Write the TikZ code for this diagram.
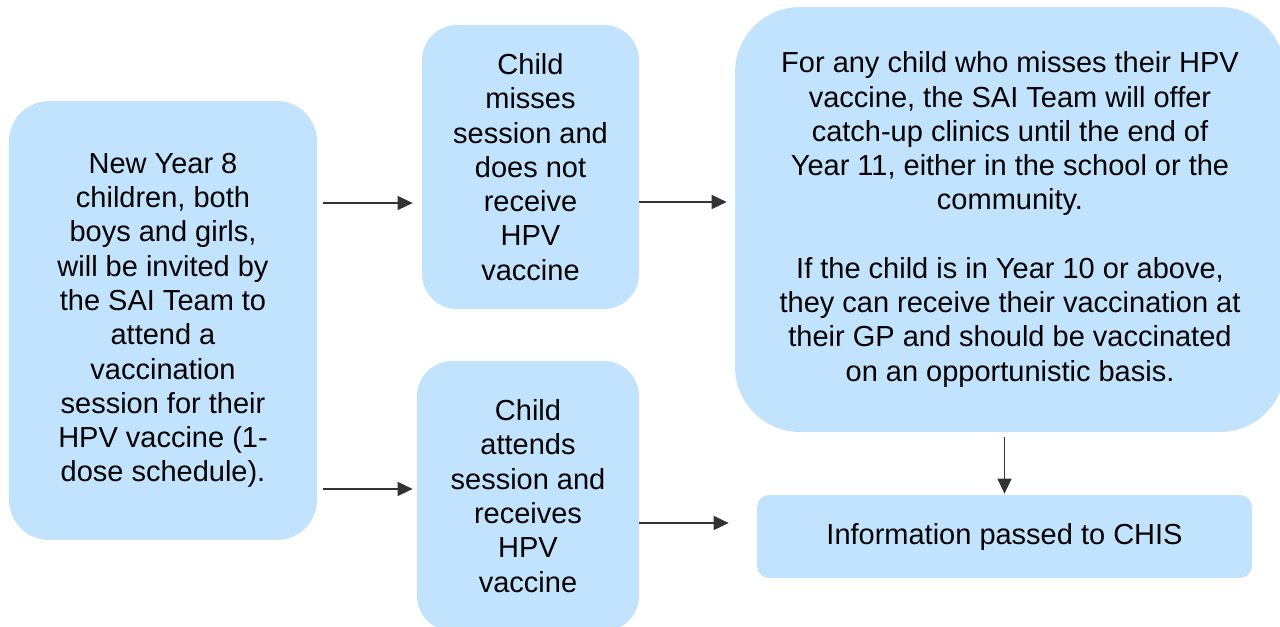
\documentclass[tikz,border=0pt]{standalone}
\usepackage{fontspec}
\setmainfont{Liberation Sans}
\usetikzlibrary{arrows.meta}
\definecolor{boxblue}{RGB}{194,227,253}
\begin{document}
\begin{tikzpicture}[x=0.02cm, y=-0.02cm, >={Triangle[length=0.3cm,width=0.28cm]},
  box/.style={fill=boxblue, align=center, inner sep=0pt, font=\fontsize{16.5}{19.5}\selectfont},
  link/.style={->, draw=black!80, line width=0.7pt}]
\useasboundingbox (0,0) rectangle (1280,626);
\node[box, rounded corners=0.8cm, minimum width=6.16cm, minimum height=8.78cm](invite) at (163,320.5)
  {New Year 8\\children, both\\boys and girls,\\will be invited by\\the SAI Team to\\attend a\\vaccination\\session for their\\HPV vaccine (1-\\dose schedule).};
\node[box, rounded corners=0.7cm, minimum width=4.34cm, minimum height=5.68cm](missed) at (530.5,167)
  {Child\\misses\\session and\\does not\\receive\\HPV\\vaccine};
\node[box, rounded corners=0.7cm, minimum width=4.44cm, minimum height=5.4cm](attend) at (528,496)
  {Child\\attends\\session and\\receives\\HPV\\vaccine};
\node[box, rounded corners=1.3cm, minimum width=11cm, minimum height=8.5cm](catchup) at (1010,219.5)
  {For any child who misses their HPV\\vaccine, the SAI Team will offer\\catch-up clinics until the end of\\Year 11, either in the school or the\\community.\\[19.5pt]If the child is in Year 10 or above,\\they can receive their vaccination at\\their GP and should be vaccinated\\on an opportunistic basis.};
\node[box, rounded corners=0.24cm, minimum width=9.9cm, minimum height=1.66cm](chis) at (1004.5,536.5)
  {Information passed to CHIS};
% arrows
\draw[link, shorten <=0.12cm, shorten >=0.18cm]([yshift=2.35cm]invite.east)--([yshift=2.35cm]invite.east -| missed.west);
\draw[link, shorten <=0.12cm, shorten >=0.08cm]([yshift=-3.37cm]invite.east)--([yshift=-3.37cm]invite.east -| attend.west);
\draw[link, shorten >=0.16cm]([yshift=-0.7cm]missed.east)--([yshift=-0.7cm]missed.east -| catchup.west);
\draw[link, shorten >=0.56cm]([yshift=-0.54cm]attend.east)--([yshift=-0.54cm]attend.east -| chis.west);
\draw[link, shorten <=0.1cm, shorten >=0.02cm](chis.north |- catchup.south)--(chis.north);
\end{tikzpicture}
\end{document}
